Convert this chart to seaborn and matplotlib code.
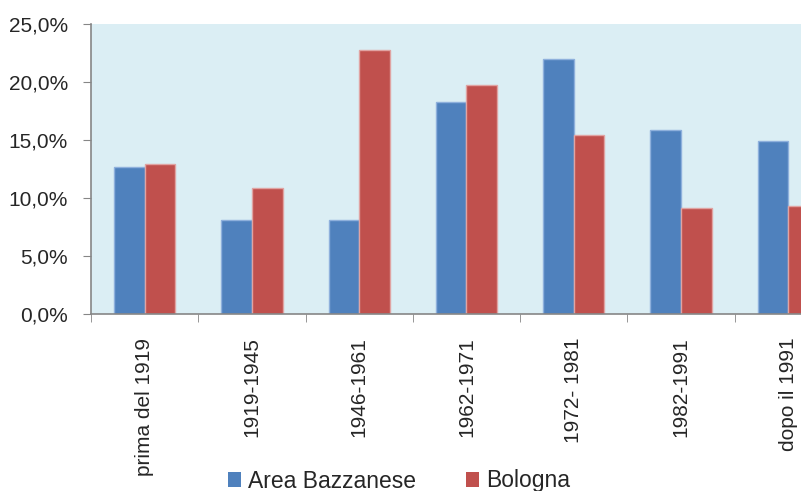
import matplotlib
matplotlib.use("Agg")
import matplotlib.pyplot as plt
import seaborn as sns
import pandas as pd
from matplotlib.ticker import FuncFormatter, FixedLocator
from matplotlib.patches import Patch

periods = ["prima del 1919", "1919-1945", "1946-1961", "1962-1971", "1972- 1981", "1982-1991", "dopo il 1991"]
area_bazzanese = [12.7, 8.1, 8.1, 18.3, 22.0, 15.9, 14.9]
bologna = [12.9, 10.9, 22.8, 19.7, 15.4, 9.1, 9.3]
series_names = ["Area Bazzanese", "Bologna"]
y_ticks = [0, 5, 10, 15, 20, 25]

colors = ["#4F81BD", "#C0504D"]
edges = ["#8EB0DC", "#E0A3A2"]

df = pd.DataFrame({
    "period": periods * 2,
    "series": [series_names[0]] * len(periods) + [series_names[1]] * len(periods),
    "value": area_bazzanese + bologna,
})

sns.set_style("white")
plt.rcParams["font.family"] = ["Liberation Sans", "DejaVu Sans"]

fig = plt.figure(figsize=(8.01, 4.91), dpi=100)
W, H = 801, 491
ax = fig.add_axes([91 / W, (H - 314) / H, 751 / W, 290 / H])
ax.set_facecolor("#DBEEF4")

sns.barplot(data=df, x="period", y="value", hue="series", palette=colors,
            width=0.57, ax=ax, legend=False, saturation=1, linewidth=1)
for i, cont in enumerate(ax.containers):
    for p in cont:
        p.set_edgecolor(edges[i])

ax.set_xlim(-0.5, len(periods) - 0.5)
ax.set_ylim(0, 25)
ax.yaxis.set_major_locator(FixedLocator(y_ticks))
ax.yaxis.set_major_formatter(FuncFormatter(lambda v, p: f"{v:.1f}".replace(".", ",") + "%"))
ax.set_xlabel("")
ax.set_ylabel("")

for s in ["top", "right"]:
    ax.spines[s].set_visible(False)
for s in ["left", "bottom"]:
    ax.spines[s].set_color("#868686")
    ax.spines[s].set_linewidth(1.2)

ax.tick_params(axis="y", which="major", length=6, color="#868686", labelsize=15,
               labelcolor="#262626", left=True, pad=10.5)
ax.set_xticks(range(len(periods)))
ax.set_xticklabels(periods, rotation=90, va="top", ha="center")
ax.tick_params(axis="x", which="major", length=0, labelsize=15, labelcolor="#262626", pad=17)
ax.set_xticks([i - 0.5 for i in range(len(periods) + 1)], minor=True)
ax.tick_params(axis="x", which="minor", length=6, color="#868686", bottom=True)

handles = [Patch(facecolor=colors[i], edgecolor="none") for i in range(2)]
fig.legend(handles, series_names, loc="center", bbox_to_anchor=(399 / W, 1 - 481 / H),
           ncol=2, frameon=False, handlelength=0.55, handleheight=0.6, handletextpad=0.3,
           columnspacing=2.2, borderaxespad=0, borderpad=0,
           prop={"family": ["Liberation Sans", "DejaVu Sans"], "size": 16.5})

fig.savefig("out.png", dpi=100)
